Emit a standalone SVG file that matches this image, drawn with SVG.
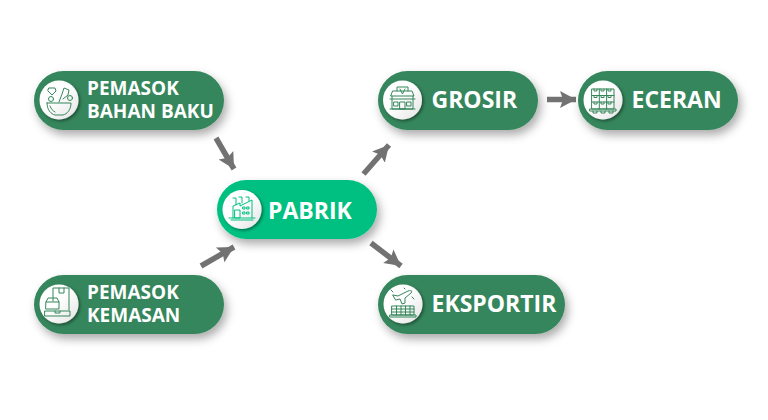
<svg xmlns="http://www.w3.org/2000/svg" width="768" height="420" viewBox="0 0 768 420">
<style>
.pill{fill:#35865b;filter:url(#sh)}
.main{fill:#00c081;filter:url(#sh)}
.disc{fill:url(#dg);filter:url(#ds)}
.ic{fill:none;stroke:#35865b;stroke-width:1;stroke-linejoin:round;stroke-linecap:round}
.icm{fill:none;stroke:#00c081;stroke-width:1;stroke-linejoin:round;stroke-linecap:round}
text{font-family:"Open Sans","Noto Sans",sans-serif;font-weight:700;fill:#fff}
.s{font-size:19px}
.b{font-size:23px}
.arr{stroke:#727272;stroke-width:5.5;fill:none;marker-end:url(#ah)}
</style>
<defs>
<filter id="sh" x="-15%" y="-30%" width="135%" height="180%"><feDropShadow dx="3" dy="5" stdDeviation="5" flood-color="#000" flood-opacity=".33"/></filter>
<filter id="ds" x="-30%" y="-30%" width="170%" height="170%"><feDropShadow dx="1.500" dy="1.500" stdDeviation="1.500" flood-color="#000" flood-opacity=".45"/></filter>
<linearGradient id="dg" x1="0" y1="0" x2="1" y2="1"><stop offset=".45" stop-color="#fff"/><stop offset="1" stop-color="#e2e2e2"/></linearGradient>
<marker id="ah" markerUnits="userSpaceOnUse" markerWidth="20" markerHeight="20" refX="16" refY="10" orient="auto"><path d="M0 1.500L16 10L0 18.500L3 10Z" fill="#727272"/></marker>
</defs>
<g id="connectors">
<line class="arr" x1="216" y1="138" x2="234" y2="169"/>
<line class="arr" x1="201" y1="266" x2="234" y2="247"/>
<line class="arr" x1="363.500" y1="174" x2="389" y2="145"/>
<line class="arr" x1="371" y1="243" x2="401" y2="266"/>
<line class="arr" x1="547" y1="99.500" x2="576" y2="99.500"/>
</g>
<g id="node-bahan">
<rect class="pill" x="34" y="71" width="190" height="59" rx="29.500"/>
<circle class="disc" cx="59" cy="100" r="19.500"/>
<g class="ic"><path d="M47 103H71C71 110 67 114 63 115H55C51 114 47 110 47 103Z"/><path d="M50 106C51 109 53 111 55 112"/><path d="M49 88H55L56 91L52 95L48 91Z"/><circle cx="51" cy="99" r="2.500"/><path d="M59 102L62 94L64 88L69 90L68 95L63 99"/><circle cx="70" cy="98" r="2.500"/></g>
<text class="s" x="87" y="95">PEMASOK</text>
<text class="s" x="87" y="118">BAHAN BAKU</text>
</g>
<g id="node-kemasan">
<rect class="pill" x="34" y="275" width="190" height="59" rx="29.500"/>
<circle class="disc" cx="59" cy="304" r="19.500"/>
<g class="ic"><path d="M53 301V288H69V310"/><path d="M59 288V293H64V288"/><path d="M46 302L48 298H57L59 302V309H46Z"/><path d="M46 302H59"/><path d="M45 311H70V316H45Z"/><path d="M55 311V313H60V311"/></g>
<text class="s" x="87" y="298.500">PEMASOK</text>
<text class="s" x="87" y="321.500">KEMASAN</text>
</g>
<g id="node-pabrik">
<rect class="main" x="217" y="180" width="160" height="59" rx="29.500"/>
<circle class="disc" cx="242" cy="209.500" r="19.500"/>
<g class="icm"><path d="M233 218V206L240 203V206L252 200V218"/><path d="M233 198H236V205M239 197H242V203M246 197H249V201"/><path d="M229 218H255"/><path d="M235 210H240V218H235Z"/><path d="M243 207h2v2h-2zM247 207h2v2h-2zM243 212h2v2h-2zM247 212h2v2h-2z"/><path d="M231 220H253"/></g>
<text class="b" x="268" y="219">PABRIK</text>
</g>
<g id="node-grosir">
<rect class="pill" x="378" y="71" width="160" height="59" rx="29.500"/>
<circle class="disc" cx="402.500" cy="100" r="19.500"/>
<g class="ic"><path d="M391 96H414L412 91H393Z"/><path d="M397 91V87H408V91"/><path d="M400 89L402.500 94L405 89"/><path d="M392 96V109H413V96"/><path d="M390 99H415"/><path d="M390 109H415"/><path d="M400 102H405V109H400Z"/><path d="M394 102H398V106H394ZM407 102H411V106H407Z"/></g>
<text class="b" x="431.500" y="108">GROSIR</text>
</g>
<g id="node-eceran">
<rect class="pill" x="578" y="71" width="160" height="59" rx="29.500"/>
<circle class="disc" cx="603" cy="100" r="19.500"/>
<g class="ic"><path d="M592 89H614V109H592Z"/><path d="M592 95.500H614M592 102H614M599.300 89V109M606.600 89V109"/><path d="M594 89V91H597V89M601 89V91H604V89M608 89V91H611V89M594 95.500V97.500H597V95.500M601 95.500V97.500H604V95.500M608 95.500V97.500H611V95.500M594 102V104H597V102M601 102V104H604V102M608 102V104H611V102"/><path d="M590 109H616V111H590ZM593 111V113H597V111M601 111V113H605V111M609 111V113H613V111"/></g>
<text class="b" x="631.500" y="108">ECERAN</text>
</g>
<g id="node-eksportir">
<rect class="pill" x="378" y="275" width="187" height="59" rx="29.500"/>
<circle class="disc" cx="403" cy="304" r="19.500"/>
<g class="ic"><path d="M393 295L398 296L408 291C411 290 413 291 411 293L405 298L405 303L402 304L400 299L396 300Z"/><path d="M391 290L393 292M412 297L414 299M404 288L405 289"/><path d="M392 306H414V315H392Z"/><path d="M392 309H414M392 312H414M396.500 306V315M401 306V315M405.500 306V315M410 306V315"/><path d="M390 315H416V317H390Z"/></g>
<text class="b" x="431.500" y="312">EKSPORTIR</text>
</g>
</svg>
